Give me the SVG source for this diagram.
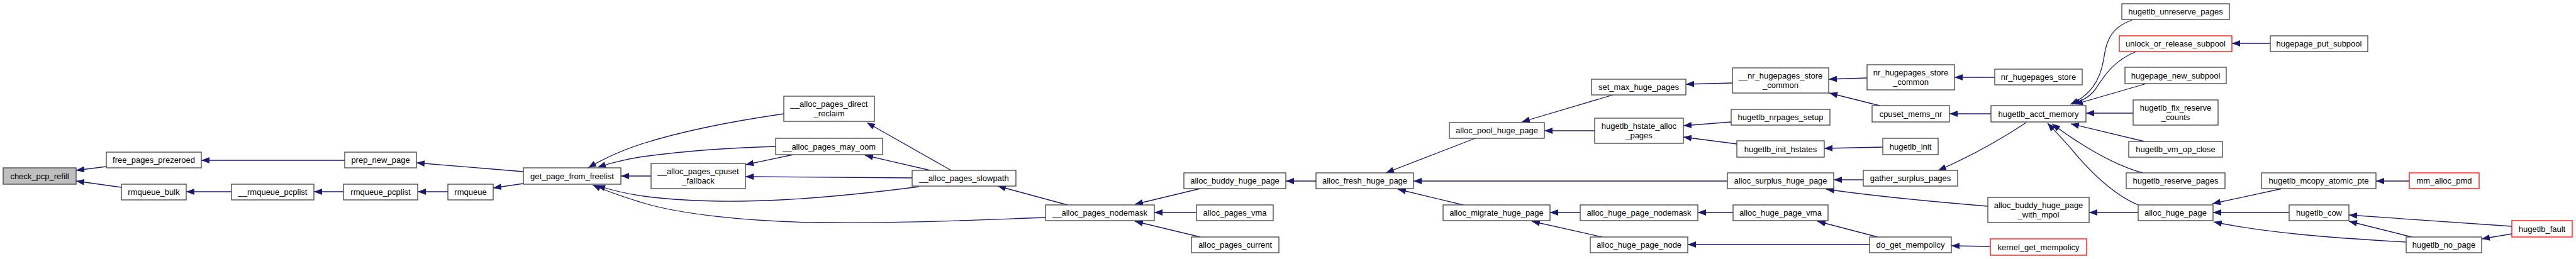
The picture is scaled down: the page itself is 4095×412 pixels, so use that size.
<svg xmlns="http://www.w3.org/2000/svg" width="4095" height="412" viewBox="0 0 4095 412">
<style>
.n rect{fill:#fff;stroke:#404040;stroke-width:1.3}
.n.r rect{stroke:#ff0000}
.n.g rect{fill:#bfbfbf}
.n text{font-family:"Liberation Sans",Arial,sans-serif;font-size:13px;fill:#000;text-anchor:middle}
#edges path{fill:none;stroke:#191970;stroke-width:1.3;marker-end:url(#ah)}
</style>
<defs>
<marker id="ah" viewBox="0 0 13 10" refX="13" refY="5" markerWidth="13" markerHeight="10" markerUnits="userSpaceOnUse" orient="auto">
<path d="M0,0 L13,5 L0,10 z" fill="#191970"/>
</marker>
</defs>
<rect width="4095" height="412" fill="#fff"/>
<g id="edges">
<path d="M169,265 L121,271"/>
<path d="M193,298 L121,288"/>
<path d="M548,255 L320,255"/>
<path d="M368,305 L296,305"/>
<path d="M546,305 L499,305"/>
<path d="M832,273 L662,259"/>
<path d="M712,305 L664,305"/>
<path d="M832,292 L784,299"/>
<path d="M1246,181 C1170,192 1090,207 1023,228 C985,240 960,252 935,267"/>
<path d="M1233,233 C1160,235 1090,240 1023,249 C995,253 972,259 950,266"/>
<path d="M1035,280 L987,280"/>
<path d="M1261,246 L1185,262"/>
<path d="M1450,283 L1185,281"/>
<path d="M1461,297 C1320,315 1160,330 1023,312 C995,308 970,302 949,295"/>
<path d="M1662,346 C1550,350 1420,356 1300,354 C1180,352 1080,340 1023,323 C990,313 962,303 942,294"/>
<path d="M1512,271 L1378,195"/>
<path d="M1479,271 L1375,247"/>
<path d="M1697,326 L1586,296"/>
<path d="M1908,300 L1804,325"/>
<path d="M1902,338 L1835,338"/>
<path d="M1908,377 L1804,352"/>
<path d="M2092,288 L2044,288"/>
<path d="M2345,220 L2203,275"/>
<path d="M2746,288 L2247,288"/>
<path d="M2326,326 L2222,301"/>
<path d="M2564,151 L2419,194"/>
<path d="M2535,208 L2455,208"/>
<path d="M2512,338 L2464,338"/>
<path d="M2547,377 L2435,352"/>
<path d="M2754,132 L2680,134"/>
<path d="M2752,194 L2676,200"/>
<path d="M2761,229 L2676,218"/>
<path d="M2755,338 L2699,338"/>
<path d="M2972,389 L2683,389"/>
<path d="M2968,124 L2907,126"/>
<path d="M2988,168 L2908,148"/>
<path d="M2993,234 L2900,236"/>
<path d="M2962,286 L2915,286"/>
<path d="M3160,328 C3100,323 3000,315 2903,301"/>
<path d="M2985,377 L2889,352"/>
<path d="M3171,123 L3107,123"/>
<path d="M3165,181 L3099,181"/>
<path d="M3221,195 C3180,222 3130,250 3081,271"/>
<path d="M3399,338 L3321,338"/>
<path d="M3164,392 L3102,391"/>
<path d="M3389,32 C3352,45 3348,70 3344,95 C3338,130 3322,152 3291,166"/>
<path d="M3396,82 C3362,95 3345,120 3331,142 C3321,155 3310,160 3294,166"/>
<path d="M3412,133 L3298,166"/>
<path d="M3391,180 L3316,180"/>
<path d="M3409,225 L3292,197"/>
<path d="M3406,275 C3370,265 3320,240 3262,197"/>
<path d="M3399,326 C3360,310 3322,272 3297,242 C3282,224 3268,210 3255,196"/>
<path d="M3609,69 L3548,69"/>
<path d="M3628,300 L3517,324"/>
<path d="M3639,338 L3518,338"/>
<path d="M3824,385 C3700,378 3600,370 3519,353"/>
<path d="M3993,360 L3734,342"/>
<path d="M3834,377 L3734,352"/>
<path d="M3830,288 L3777,288"/>
<path d="M3993,372 L3945,380"/>
</g>
<g id="check_pcp_refill" class="n g"><rect x="5" y="267" width="116" height="26"/><text x="63" y="284.5">check_pcp_refill</text></g>
<g id="free_pages_prezeroed" class="n"><rect x="169" y="242" width="151" height="25"/><text x="244.5" y="259">free_pages_prezeroed</text></g>
<g id="rmqueue_bulk" class="n"><rect x="193" y="293" width="103" height="25"/><text x="244.5" y="310">rmqueue_bulk</text></g>
<g id="prep_new_page" class="n"><rect x="548" y="242" width="114" height="25"/><text x="605" y="259">prep_new_page</text></g>
<g id="__rmqueue_pcplist" class="n"><rect x="368" y="293" width="131" height="25"/><text x="433.5" y="310">__rmqueue_pcplist</text></g>
<g id="rmqueue_pcplist" class="n"><rect x="546" y="293" width="118" height="25"/><text x="605" y="310">rmqueue_pcplist</text></g>
<g id="rmqueue" class="n"><rect x="712" y="293" width="72" height="25"/><text x="748" y="310">rmqueue</text></g>
<g id="get_page_from_freelist" class="n"><rect x="832" y="267" width="155" height="26"/><text x="909.5" y="284.5">get_page_from_freelist</text></g>
<g id="__alloc_pages_direct_reclaim" class="n"><rect x="1246" y="153" width="144" height="40"/><text x="1318" y="169.5">__alloc_pages_direct</text><text x="1318" y="184.5">_reclaim</text></g>
<g id="__alloc_pages_may_oom" class="n"><rect x="1233" y="220" width="170" height="26"/><text x="1318" y="237.5">__alloc_pages_may_oom</text></g>
<g id="__alloc_pages_cpuset_fallback" class="n"><rect x="1035" y="260" width="150" height="40"/><text x="1110" y="276.5">__alloc_pages_cpuset</text><text x="1110" y="291.5">_fallback</text></g>
<g id="__alloc_pages_slowpath" class="n"><rect x="1450" y="271" width="165" height="25"/><text x="1532.5" y="288">__alloc_pages_slowpath</text></g>
<g id="__alloc_pages_nodemask" class="n"><rect x="1662" y="326" width="173" height="25"/><text x="1748.5" y="343">__alloc_pages_nodemask</text></g>
<g id="alloc_buddy_huge_page" class="n"><rect x="1882" y="275" width="162" height="25"/><text x="1963" y="292">alloc_buddy_huge_page</text></g>
<g id="alloc_pages_vma" class="n"><rect x="1902" y="326" width="122" height="25"/><text x="1963" y="343">alloc_pages_vma</text></g>
<g id="alloc_pages_current" class="n"><rect x="1894" y="377" width="139" height="25"/><text x="1963.5" y="394">alloc_pages_current</text></g>
<g id="alloc_fresh_huge_page" class="n"><rect x="2092" y="275" width="155" height="25"/><text x="2169.5" y="292">alloc_fresh_huge_page</text></g>
<g id="alloc_pool_huge_page" class="n"><rect x="2304" y="195" width="151" height="25"/><text x="2379.5" y="212">alloc_pool_huge_page</text></g>
<g id="alloc_migrate_huge_page" class="n"><rect x="2294" y="326" width="170" height="25"/><text x="2379" y="343">alloc_migrate_huge_page</text></g>
<g id="set_max_huge_pages" class="n"><rect x="2530" y="126" width="150" height="25"/><text x="2605" y="143">set_max_huge_pages</text></g>
<g id="hugetlb_hstate_alloc_pages" class="n"><rect x="2535" y="188" width="141" height="40"/><text x="2605.5" y="204.5">hugetlb_hstate_alloc</text><text x="2605.5" y="219.5">_pages</text></g>
<g id="alloc_huge_page_nodemask" class="n"><rect x="2512" y="326" width="187" height="25"/><text x="2605.5" y="343">alloc_huge_page_nodemask</text></g>
<g id="alloc_huge_page_node" class="n"><rect x="2528" y="377" width="155" height="25"/><text x="2605.5" y="394">alloc_huge_page_node</text></g>
<g id="__nr_hugepages_store_common" class="n"><rect x="2754" y="108" width="153" height="40"/><text x="2830.5" y="124.5">__nr_hugepages_store</text><text x="2830.5" y="139.5">_common</text></g>
<g id="hugetlb_nrpages_setup" class="n"><rect x="2752" y="174" width="157" height="25"/><text x="2830.5" y="191">hugetlb_nrpages_setup</text></g>
<g id="hugetlb_init_hstates" class="n"><rect x="2761" y="224" width="139" height="26"/><text x="2830.5" y="241.5">hugetlb_init_hstates</text></g>
<g id="alloc_surplus_huge_page" class="n"><rect x="2746" y="275" width="169" height="25"/><text x="2830.5" y="292">alloc_surplus_huge_page</text></g>
<g id="alloc_huge_page_vma" class="n"><rect x="2755" y="326" width="151" height="25"/><text x="2830.5" y="343">alloc_huge_page_vma</text></g>
<g id="nr_hugepages_store_common" class="n"><rect x="2968" y="103" width="139" height="40"/><text x="3037.5" y="119.5">nr_hugepages_store</text><text x="3037.5" y="134.5">_common</text></g>
<g id="cpuset_mems_nr" class="n"><rect x="2976" y="168" width="123" height="26"/><text x="3037.5" y="185.5">cpuset_mems_nr</text></g>
<g id="hugetlb_init" class="n"><rect x="2993" y="220" width="88" height="26"/><text x="3037" y="237.5">hugetlb_init</text></g>
<g id="gather_surplus_pages" class="n"><rect x="2962" y="271" width="150" height="25"/><text x="3037" y="288">gather_surplus_pages</text></g>
<g id="do_get_mempolicy" class="n"><rect x="2972" y="377" width="130" height="25"/><text x="3037" y="394">do_get_mempolicy</text></g>
<g id="nr_hugepages_store" class="n"><rect x="3171" y="110" width="139" height="25"/><text x="3240.5" y="127">nr_hugepages_store</text></g>
<g id="hugetlb_acct_memory" class="n"><rect x="3165" y="168" width="151" height="26"/><text x="3240.5" y="185.5">hugetlb_acct_memory</text></g>
<g id="alloc_buddy_huge_page_with_mpol" class="n"><rect x="3160" y="314" width="161" height="40"/><text x="3240.5" y="330.5">alloc_buddy_huge_page</text><text x="3240.5" y="345.5">_with_mpol</text></g>
<g id="kernel_get_mempolicy" class="n r"><rect x="3164" y="380" width="153" height="26"/><text x="3240.5" y="397.5">kernel_get_mempolicy</text></g>
<g id="hugetlb_unreserve_pages" class="n"><rect x="3373" y="6" width="171" height="25"/><text x="3458.5" y="23">hugetlb_unreserve_pages</text></g>
<g id="unlock_or_release_subpool" class="n r"><rect x="3369" y="57" width="179" height="25"/><text x="3458.5" y="74">unlock_or_release_subpool</text></g>
<g id="hugepage_new_subpool" class="n"><rect x="3378" y="107" width="161" height="26"/><text x="3458.5" y="124.5">hugepage_new_subpool</text></g>
<g id="hugetlb_fix_reserve_counts" class="n"><rect x="3391" y="159" width="135" height="40"/><text x="3458.5" y="175.5">hugetlb_fix_reserve</text><text x="3458.5" y="190.5">_counts</text></g>
<g id="hugetlb_vm_op_close" class="n"><rect x="3384" y="225" width="149" height="25"/><text x="3458.5" y="242">hugetlb_vm_op_close</text></g>
<g id="hugetlb_reserve_pages" class="n"><rect x="3380" y="275" width="157" height="25"/><text x="3458.5" y="292">hugetlb_reserve_pages</text></g>
<g id="alloc_huge_page" class="n"><rect x="3399" y="326" width="119" height="25"/><text x="3458.5" y="343">alloc_huge_page</text></g>
<g id="hugepage_put_subpool" class="n"><rect x="3609" y="57" width="155" height="25"/><text x="3686.5" y="74">hugepage_put_subpool</text></g>
<g id="hugetlb_mcopy_atomic_pte" class="n"><rect x="3595" y="275" width="182" height="25"/><text x="3686" y="292">hugetlb_mcopy_atomic_pte</text></g>
<g id="hugetlb_cow" class="n"><rect x="3639" y="326" width="95" height="25"/><text x="3686.5" y="343">hugetlb_cow</text></g>
<g id="mm_alloc_pmd" class="n r"><rect x="3830" y="275" width="111" height="25"/><text x="3885.5" y="292">mm_alloc_pmd</text></g>
<g id="hugetlb_fault" class="n r"><rect x="3993" y="351" width="96" height="26"/><text x="4041" y="368.5">hugetlb_fault</text></g>
<g id="hugetlb_no_page" class="n"><rect x="3825" y="377" width="120" height="25"/><text x="3885" y="394">hugetlb_no_page</text></g>
</svg>
